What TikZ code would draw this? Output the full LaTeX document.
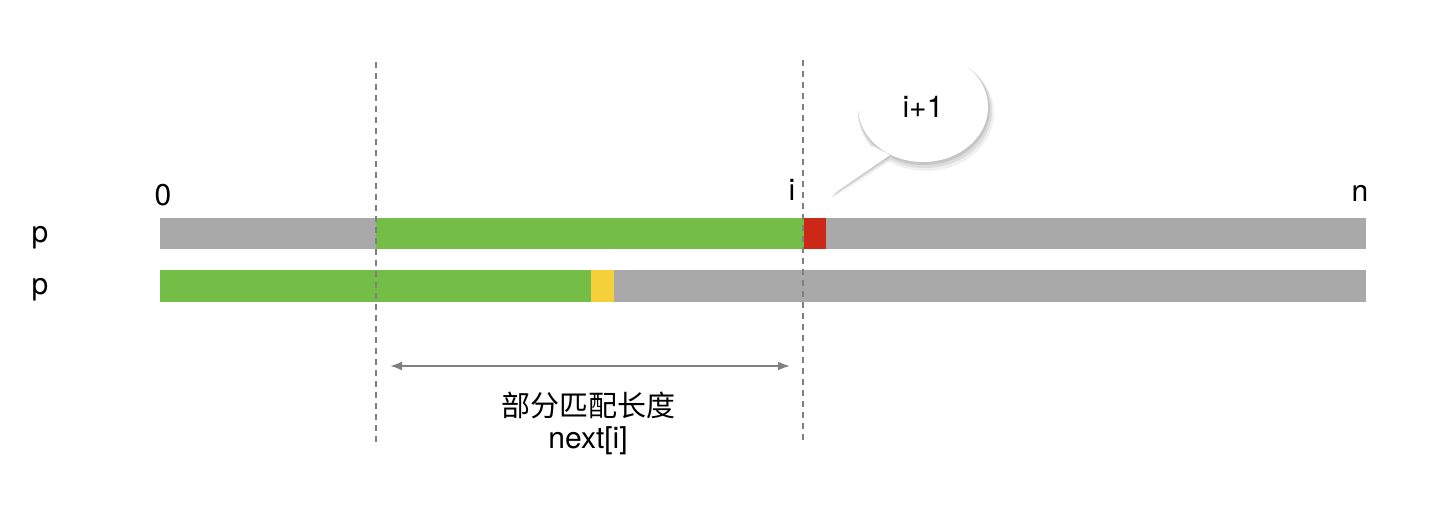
\documentclass[tikz,border=0pt]{standalone}
\usepackage{fontspec}
\setmainfont{TeX Gyre Heros}
\newfontfamily\cjk{Noto Sans CJK SC}
\usetikzlibrary{arrows.meta}
\definecolor{barg}{HTML}{A9A9A9}
\definecolor{grn}{HTML}{74BE47}
\definecolor{rd}{HTML}{CB2818}
\definecolor{yl}{HTML}{F5D03A}
\begin{document}
\begin{tikzpicture}[x=1pt,y=-1pt,
  lbl/.style={font=\fontsize{30}{34}\selectfont, inner sep=0pt},
  vline/.style={draw=gray, line width=2pt, dash pattern=on 6pt off 5pt}]
\useasboundingbox (0,0) rectangle (1434,526);
% bars
\fill[barg] (160,218) rectangle (1366,249);
\fill[grn] (376,218) rectangle (804,249);
\fill[rd] (804,218) rectangle (826,249);
\fill[barg] (160,270) rectangle (1366,302);
\fill[grn] (160,270) rectangle (591,302);
\fill[yl] (591,270) rectangle (614,302);
% dashed lines
\coordinate (a1) at (376,62); \coordinate (a2) at (376,442);
\coordinate (b1) at (803,60); \coordinate (b2) at (803,440);
\draw[vline] (a1) -- (a2);
\draw[vline] (b1) -- (b2);
% arrow
\coordinate (l) at (390,366); \coordinate (r) at (790,366);
\draw[gray, line width=2pt, {Latex[length=12pt,width=9pt]}-{Latex[length=12pt,width=9pt]}] (l) -- (r);
% labels
\node[lbl] (z) at (163,195) {0};
\node[lbl] (i) at (792,190) {i};
\node[lbl] (n) at (1360,193) {n};
\node[lbl] (p1) at (40,238) {p};
\node[lbl] (p2) at (40,290) {p};
\node[lbl, font=\cjk\fontsize{29}{34}\selectfont] (cn) at (588,405) {部分匹配长度};
\node[lbl] (nx) at (588,441) {next[i]};
% bubble
\foreach \s/\o in {6/0.06,4/0.08,2/0.1}{
  \fill[black, opacity=\o] (923+\s*0.5,107+\s) ellipse (65+\s*0.5 and 55+\s*0.5);
  \fill[black, opacity=\o] (873,146+\s) -- (832,195+\s*0.5) -- (890,155+\s) -- cycle;
}
\fill[white] (873,146) -- (832,195) -- (890,155) -- cycle;
\fill[white] (923,107) ellipse (65 and 55);
\node[lbl] (b) at (923,107) {i+1};
\end{tikzpicture}
\end{document}
